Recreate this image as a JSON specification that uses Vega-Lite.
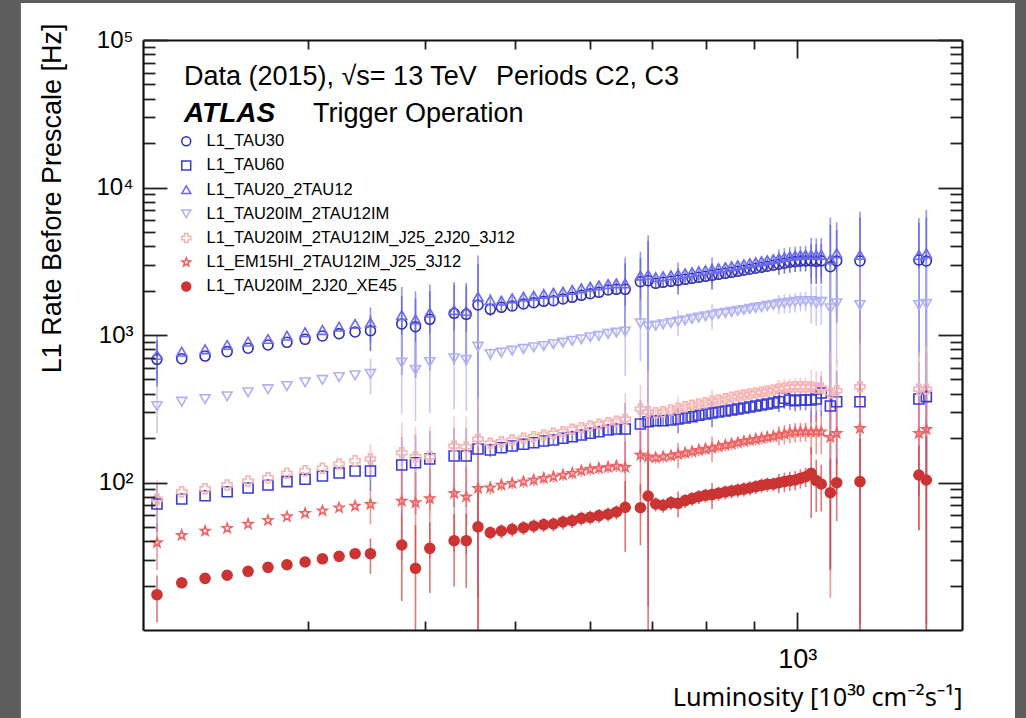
{
"$schema":"https://vega.github.io/schema/vega-lite/v6.json",
"width":819,"height":590,
"autosize":{"type":"none"},
"padding":{"left":143,"top":40,"right":64,"bottom":88},
"background":"#5d5d5d",
"config":{"view":{"stroke":null},"font":"Liberation Sans","axis":{"labelFont":"Liberation Sans","titleFont":"Liberation Sans","labelColor":"#000","titleColor":"#000","grid":false,"domainColor":"#111","domainWidth":2.2,"tickColor":"#222","tickWidth":1.8,"labelFlush":false,"labelOverlap":false,"labelBound":false,"titleFontWeight":"normal"}},
"data":{"values":[
{"s":"TAU30","L":207,"r":684,"e":239},{"s":"TAU30","L":220,"r":691},{"s":"TAU30","L":233,"r":720},{"s":"TAU30","L":246,"r":771},{"s":"TAU30","L":259,"r":813},{"s":"TAU30","L":272,"r":856},{"s":"TAU30","L":285,"r":892},{"s":"TAU30","L":298,"r":935},{"s":"TAU30","L":311,"r":985},{"s":"TAU30","L":324,"r":1021},{"s":"TAU30","L":337,"r":1048},{"s":"TAU30","L":350,"r":1069,"e":289},
{"s":"TAU30","L":378,"r":1188,"e":653},{"s":"TAU30","L":391,"r":1138,"e":626},{"s":"TAU30","L":405,"r":1278,"e":703},{"s":"TAU30","L":430,"r":1403,"e":772},{"s":"TAU30","L":443,"r":1381,"e":760},{"s":"TAU30","L":456,"r":1597,"e":1437},
{"s":"TAU30","L":470,"r":1494,"e":149},{"s":"TAU30","L":483,"r":1541,"e":108},{"s":"TAU30","L":496,"r":1573,"e":110},{"s":"TAU30","L":510,"r":1623,"e":114},{"s":"TAU30","L":523,"r":1656,"e":116},{"s":"TAU30","L":536,"r":1692,"e":118},{"s":"TAU30","L":549,"r":1708,"e":120},{"s":"TAU30","L":562,"r":1754,"e":123},{"s":"TAU30","L":575,"r":1801,"e":126},{"s":"TAU30","L":588,"r":1859,"e":130},{"s":"TAU30","L":601,"r":1905,"e":133},{"s":"TAU30","L":614,"r":1948,"e":136},{"s":"TAU30","L":628,"r":2019,"e":141},{"s":"TAU30","L":641,"r":2041,"e":143},{"s":"TAU30","L":655,"r":2041,"e":1020},
{"s":"TAU30","L":680,"r":2298,"e":1034},{"s":"TAU30","L":693,"r":2334,"e":1984},{"s":"TAU30","L":706,"r":2241,"e":157},{"s":"TAU30","L":719,"r":2277,"e":159},{"s":"TAU30","L":733,"r":2312,"e":162},{"s":"TAU30","L":746,"r":2349,"e":470},{"s":"TAU30","L":759,"r":2386,"e":167},{"s":"TAU30","L":772,"r":2424,"e":170},{"s":"TAU30","L":785,"r":2462,"e":172},{"s":"TAU30","L":798,"r":2500,"e":175},{"s":"TAU30","L":811,"r":2540,"e":508},{"s":"TAU30","L":824,"r":2580,"e":181},{"s":"TAU30","L":838,"r":2621,"e":183},{"s":"TAU30","L":851,"r":2662,"e":186},{"s":"TAU30","L":864,"r":2704,"e":189},{"s":"TAU30","L":877,"r":2747,"e":192},{"s":"TAU30","L":890,"r":2790,"e":195},{"s":"TAU30","L":903,"r":2834,"e":198},{"s":"TAU30","L":916,"r":2879,"e":202},{"s":"TAU30","L":929,"r":2924,"e":205},{"s":"TAU30","L":943,"r":2970,"e":208},{"s":"TAU30","L":956,"r":3017,"e":453},{"s":"TAU30","L":969,"r":3065,"e":460},{"s":"TAU30","L":982,"r":3113,"e":467},{"s":"TAU30","L":995,"r":3145,"e":472},{"s":"TAU30","L":1008,"r":3166,"e":475},{"s":"TAU30","L":1021,"r":3177,"e":477},{"s":"TAU30","L":1035,"r":3177,"e":953},{"s":"TAU30","L":1048,"r":3160,"e":948},{"s":"TAU30","L":1061,"r":3180,"e":954},
{"s":"TAU30","L":1085,"r":2904,"e":2672},{"s":"TAU30","L":1102,"r":3177,"e":1970},{"s":"TAU30","L":1167,"r":3177,"e":3082},{"s":"TAU30","L":1349,"r":3225,"e":2516},{"s":"TAU30","L":1374,"r":3177,"e":3082},
{"s":"TAU60","L":207,"r":71.5,"e":25},{"s":"TAU60","L":220,"r":77.3},{"s":"TAU60","L":233,"r":81.4},{"s":"TAU60","L":246,"r":86.6},{"s":"TAU60","L":259,"r":91.8},{"s":"TAU60","L":272,"r":96.2},{"s":"TAU60","L":285,"r":101.3},{"s":"TAU60","L":298,"r":105.1},{"s":"TAU60","L":311,"r":110.7},{"s":"TAU60","L":324,"r":116},{"s":"TAU60","L":337,"r":119.7},{"s":"TAU60","L":350,"r":119.7,"e":32},
{"s":"TAU60","L":378,"r":131.4,"e":72},{"s":"TAU60","L":391,"r":136.2,"e":75},{"s":"TAU60","L":405,"r":144.3,"e":79},{"s":"TAU60","L":430,"r":151.2,"e":83},{"s":"TAU60","L":443,"r":151.2,"e":83},{"s":"TAU60","L":456,"r":168.7,"e":152},
{"s":"TAU60","L":470,"r":166.1,"e":17},{"s":"TAU60","L":483,"r":172.2,"e":12},{"s":"TAU60","L":496,"r":176.8,"e":12.4},{"s":"TAU60","L":510,"r":181.6,"e":12.7},{"s":"TAU60","L":523,"r":186.1,"e":13},{"s":"TAU60","L":536,"r":191.1,"e":13.4},{"s":"TAU60","L":549,"r":194.2,"e":13.6},{"s":"TAU60","L":562,"r":199.4,"e":14},{"s":"TAU60","L":575,"r":204.4,"e":14.3},{"s":"TAU60","L":588,"r":209.9,"e":14.7},{"s":"TAU60","L":601,"r":215.6,"e":15.1},{"s":"TAU60","L":614,"r":221,"e":15.5},{"s":"TAU60","L":628,"r":226.9,"e":15.9},{"s":"TAU60","L":641,"r":230.5,"e":16.1},{"s":"TAU60","L":655,"r":230.5,"e":115},
{"s":"TAU60","L":680,"r":249.4,"e":112},{"s":"TAU60","L":693,"r":258.4,"e":220},{"s":"TAU60","L":706,"r":262.4,"e":18.4},{"s":"TAU60","L":719,"r":262.4,"e":18.4},{"s":"TAU60","L":733,"r":265.3,"e":18.6},{"s":"TAU60","L":746,"r":269.4,"e":54},{"s":"TAU60","L":759,"r":273.7,"e":19.2},{"s":"TAU60","L":772,"r":279.3,"e":19.6},{"s":"TAU60","L":785,"r":285.5,"e":20},{"s":"TAU60","L":798,"r":291.3,"e":20.4},{"s":"TAU60","L":811,"r":296,"e":59},{"s":"TAU60","L":824,"r":300.6,"e":21},{"s":"TAU60","L":838,"r":305.3,"e":21.4},{"s":"TAU60","L":851,"r":310.1,"e":21.7},{"s":"TAU60","L":864,"r":315,"e":22},{"s":"TAU60","L":877,"r":320,"e":22.4},{"s":"TAU60","L":890,"r":325,"e":22.8},{"s":"TAU60","L":903,"r":330,"e":23.1},{"s":"TAU60","L":916,"r":335.3,"e":23.5},{"s":"TAU60","L":929,"r":340.6,"e":23.8},{"s":"TAU60","L":943,"r":345.9,"e":24.2},{"s":"TAU60","L":956,"r":353,"e":53},{"s":"TAU60","L":969,"r":372.3,"e":56},{"s":"TAU60","L":982,"r":362.6,"e":54},{"s":"TAU60","L":995,"r":358.6,"e":54},{"s":"TAU60","L":1008,"r":362.6,"e":54},{"s":"TAU60","L":1021,"r":362.6,"e":54},{"s":"TAU60","L":1035,"r":362.6,"e":109},{"s":"TAU60","L":1048,"r":368.3,"e":110},{"s":"TAU60","L":1061,"r":404.6,"e":121},
{"s":"TAU60","L":1085,"r":330,"e":304},{"s":"TAU60","L":1102,"r":353,"e":219},{"s":"TAU60","L":1167,"r":353,"e":342},{"s":"TAU60","L":1349,"r":368,"e":287},{"s":"TAU60","L":1374,"r":382,"e":371},
{"s":"TAU20","L":207,"r":732,"e":256},{"s":"TAU20","L":220,"r":771},{"s":"TAU20","L":233,"r":800},{"s":"TAU20","L":246,"r":856},{"s":"TAU20","L":259,"r":901},{"s":"TAU20","L":272,"r":940},{"s":"TAU20","L":285,"r":989},{"s":"TAU20","L":298,"r":1043},{"s":"TAU20","L":311,"r":1081},{"s":"TAU20","L":324,"r":1138},{"s":"TAU20","L":337,"r":1188},{"s":"TAU20","L":350,"r":1212,"e":327},
{"s":"TAU20","L":378,"r":1366,"e":751},{"s":"TAU20","L":391,"r":1278,"e":703},{"s":"TAU20","L":405,"r":1417,"e":779},{"s":"TAU20","L":430,"r":1477,"e":812},{"s":"TAU20","L":443,"r":1455,"e":800},{"s":"TAU20","L":456,"r":1818,"e":1636},
{"s":"TAU20","L":470,"r":1727,"e":173},{"s":"TAU20","L":483,"r":1708,"e":120},{"s":"TAU20","L":496,"r":1774,"e":124},{"s":"TAU20","L":510,"r":1818,"e":127},{"s":"TAU20","L":523,"r":1847,"e":129},{"s":"TAU20","L":536,"r":1897,"e":133},{"s":"TAU20","L":549,"r":1936,"e":136},{"s":"TAU20","L":562,"r":1967,"e":138},{"s":"TAU20","L":575,"r":2019,"e":141},{"s":"TAU20","L":588,"r":2073,"e":145},{"s":"TAU20","L":601,"r":2126,"e":149},{"s":"TAU20","L":614,"r":2172,"e":152},{"s":"TAU20","L":628,"r":2217,"e":155},{"s":"TAU20","L":641,"r":2241,"e":157},{"s":"TAU20","L":655,"r":2241,"e":1120},
{"s":"TAU20","L":680,"r":2528,"e":1138},{"s":"TAU20","L":693,"r":2567,"e":2182},{"s":"TAU20","L":706,"r":2465,"e":173},{"s":"TAU20","L":719,"r":2505,"e":175},{"s":"TAU20","L":733,"r":2543,"e":178},{"s":"TAU20","L":746,"r":2584,"e":517},{"s":"TAU20","L":759,"r":2625,"e":184},{"s":"TAU20","L":772,"r":2666,"e":187},{"s":"TAU20","L":785,"r":2708,"e":190},{"s":"TAU20","L":798,"r":2750,"e":193},{"s":"TAU20","L":811,"r":2794,"e":559},{"s":"TAU20","L":824,"r":2838,"e":199},{"s":"TAU20","L":838,"r":2883,"e":202},{"s":"TAU20","L":851,"r":2928,"e":205},{"s":"TAU20","L":864,"r":2974,"e":208},{"s":"TAU20","L":877,"r":3022,"e":212},{"s":"TAU20","L":890,"r":3069,"e":215},{"s":"TAU20","L":903,"r":3117,"e":218},{"s":"TAU20","L":916,"r":3167,"e":222},{"s":"TAU20","L":929,"r":3216,"e":225},{"s":"TAU20","L":943,"r":3267,"e":229},{"s":"TAU20","L":956,"r":3319,"e":498},{"s":"TAU20","L":969,"r":3372,"e":506},{"s":"TAU20","L":982,"r":3424,"e":514},{"s":"TAU20","L":995,"r":3460,"e":519},{"s":"TAU20","L":1008,"r":3483,"e":522},{"s":"TAU20","L":1021,"r":3495,"e":524},{"s":"TAU20","L":1035,"r":3495,"e":1049},{"s":"TAU20","L":1048,"r":3476,"e":1043},{"s":"TAU20","L":1061,"r":3498,"e":1049},
{"s":"TAU20","L":1085,"r":3260,"e":2999},{"s":"TAU20","L":1102,"r":3580,"e":2220},{"s":"TAU20","L":1167,"r":3487,"e":3382},{"s":"TAU20","L":1349,"r":3487,"e":2720},{"s":"TAU20","L":1374,"r":3580,"e":3473},
{"s":"TAU20IM","L":207,"r":330,"e":116},{"s":"TAU20IM","L":220,"r":353},{"s":"TAU20IM","L":233,"r":368},{"s":"TAU20IM","L":246,"r":384},{"s":"TAU20IM","L":259,"r":409},{"s":"TAU20IM","L":272,"r":429},{"s":"TAU20IM","L":285,"r":451},{"s":"TAU20IM","L":298,"r":478},{"s":"TAU20IM","L":311,"r":496},{"s":"TAU20IM","L":324,"r":519},{"s":"TAU20IM","L":337,"r":533},{"s":"TAU20IM","L":350,"r":544,"e":147},
{"s":"TAU20IM","L":378,"r":649,"e":357},{"s":"TAU20IM","L":391,"r":579,"e":318},{"s":"TAU20IM","L":405,"r":656,"e":361},{"s":"TAU20IM","L":430,"r":695,"e":382},{"s":"TAU20IM","L":443,"r":677,"e":372},{"s":"TAU20IM","L":456,"r":833,"e":750},
{"s":"TAU20IM","L":470,"r":743,"e":74},{"s":"TAU20IM","L":483,"r":759,"e":46},{"s":"TAU20IM","L":496,"r":783,"e":47},{"s":"TAU20IM","L":510,"r":804,"e":48},{"s":"TAU20IM","L":523,"r":825,"e":50},{"s":"TAU20IM","L":536,"r":842,"e":51},{"s":"TAU20IM","L":549,"r":865,"e":52},{"s":"TAU20IM","L":562,"r":887,"e":53},{"s":"TAU20IM","L":575,"r":911,"e":55},{"s":"TAU20IM","L":588,"r":935,"e":56},{"s":"TAU20IM","L":601,"r":965,"e":58},{"s":"TAU20IM","L":614,"r":985,"e":59},{"s":"TAU20IM","L":628,"r":1016,"e":61},{"s":"TAU20IM","L":641,"r":1037,"e":62},{"s":"TAU20IM","L":655,"r":1053,"e":527},
{"s":"TAU20IM","L":680,"r":1200,"e":540},{"s":"TAU20IM","L":693,"r":1138,"e":967},{"s":"TAU20IM","L":706,"r":1156,"e":69},{"s":"TAU20IM","L":719,"r":1182,"e":71},{"s":"TAU20IM","L":733,"r":1206,"e":72},{"s":"TAU20IM","L":746,"r":1231,"e":246},{"s":"TAU20IM","L":759,"r":1258,"e":75},{"s":"TAU20IM","L":772,"r":1284,"e":77},{"s":"TAU20IM","L":785,"r":1311,"e":79},{"s":"TAU20IM","L":798,"r":1339,"e":80},{"s":"TAU20IM","L":811,"r":1360,"e":272},{"s":"TAU20IM","L":824,"r":1388,"e":83},{"s":"TAU20IM","L":838,"r":1410,"e":85},{"s":"TAU20IM","L":851,"r":1432,"e":86},{"s":"TAU20IM","L":864,"r":1455,"e":87},{"s":"TAU20IM","L":877,"r":1477,"e":89},{"s":"TAU20IM","L":890,"r":1501,"e":90},{"s":"TAU20IM","L":903,"r":1525,"e":92},{"s":"TAU20IM","L":916,"r":1548,"e":93},{"s":"TAU20IM","L":929,"r":1573,"e":94},{"s":"TAU20IM","L":943,"r":1597,"e":96},{"s":"TAU20IM","L":956,"r":1623,"e":243},{"s":"TAU20IM","L":969,"r":1640,"e":246},{"s":"TAU20IM","L":982,"r":1656,"e":248},{"s":"TAU20IM","L":995,"r":1674,"e":251},{"s":"TAU20IM","L":1008,"r":1692,"e":254},{"s":"TAU20IM","L":1021,"r":1700,"e":255},{"s":"TAU20IM","L":1035,"r":1700,"e":510},{"s":"TAU20IM","L":1048,"r":1648,"e":494},{"s":"TAU20IM","L":1061,"r":1674,"e":502},
{"s":"TAU20IM","L":1085,"r":1517,"e":1396},{"s":"TAU20IM","L":1102,"r":1640,"e":1017},{"s":"TAU20IM","L":1167,"r":1597,"e":1549},{"s":"TAU20IM","L":1349,"r":1597,"e":1246},{"s":"TAU20IM","L":1374,"r":1623,"e":1574},
{"s":"J25","L":207,"r":76.9,"e":27},{"s":"J25","L":220,"r":86.6},{"s":"J25","L":233,"r":90.8},{"s":"J25","L":246,"r":96.2},{"s":"J25","L":259,"r":102.4},{"s":"J25","L":272,"r":107.8},{"s":"J25","L":285,"r":115.5},{"s":"J25","L":298,"r":120.2},{"s":"J25","L":311,"r":124.9},{"s":"J25","L":324,"r":133.5},{"s":"J25","L":337,"r":140.5},{"s":"J25","L":350,"r":144.3,"e":39},
{"s":"J25","L":378,"r":159.2,"e":96},{"s":"J25","L":391,"r":149.6,"e":90},{"s":"J25","L":405,"r":149.6,"e":90},{"s":"J25","L":430,"r":176.8,"e":106},{"s":"J25","L":443,"r":174.9,"e":105},{"s":"J25","L":456,"r":196.3,"e":177},
{"s":"J25","L":470,"r":184.4,"e":18},{"s":"J25","L":483,"r":189.1,"e":13.2},{"s":"J25","L":496,"r":194.2,"e":13.6},{"s":"J25","L":510,"r":199.4,"e":14},{"s":"J25","L":523,"r":204.4,"e":14.3},{"s":"J25","L":536,"r":209.9,"e":14.7},{"s":"J25","L":549,"r":215.6,"e":15.1},{"s":"J25","L":562,"r":221,"e":15.5},{"s":"J25","L":575,"r":229.5,"e":16.1},{"s":"J25","L":588,"r":235.3,"e":16.5},{"s":"J25","L":601,"r":241.6,"e":16.9},{"s":"J25","L":614,"r":248.1,"e":17.4},{"s":"J25","L":628,"r":254.4,"e":17.8},{"s":"J25","L":641,"r":260,"e":18.2},{"s":"J25","L":655,"r":268.2,"e":134},
{"s":"J25","L":680,"r":315,"e":142},{"s":"J25","L":693,"r":302,"e":272},{"s":"J25","L":706,"r":297.4,"e":20.8},{"s":"J25","L":719,"r":302,"e":21.1},{"s":"J25","L":733,"r":310.1,"e":21.7},{"s":"J25","L":746,"r":318.5,"e":64},{"s":"J25","L":759,"r":326.5,"e":22.9},{"s":"J25","L":772,"r":333.7,"e":23.4},{"s":"J25","L":785,"r":340.6,"e":23.8},{"s":"J25","L":798,"r":347.5,"e":24.3},{"s":"J25","L":811,"r":355.2,"e":71},{"s":"J25","L":824,"r":362.6,"e":25.4},{"s":"J25","L":838,"r":370,"e":25.9},{"s":"J25","L":851,"r":378.2,"e":26.5},{"s":"J25","L":864,"r":385.9,"e":27},{"s":"J25","L":877,"r":392,"e":27.4},{"s":"J25","L":890,"r":398.1,"e":27.9},{"s":"J25","L":903,"r":404.6,"e":28.3},{"s":"J25","L":916,"r":410.9,"e":28.8},{"s":"J25","L":929,"r":417.4,"e":29.2},{"s":"J25","L":943,"r":423.9,"e":29.7},{"s":"J25","L":956,"r":430.6,"e":65},{"s":"J25","L":969,"r":437.4,"e":66},{"s":"J25","L":982,"r":442.1,"e":66},{"s":"J25","L":995,"r":446.3,"e":67},{"s":"J25","L":1008,"r":446.3,"e":67},{"s":"J25","L":1021,"r":446.3,"e":67},{"s":"J25","L":1035,"r":446.3,"e":134},{"s":"J25","L":1048,"r":437.4,"e":131},{"s":"J25","L":1061,"r":437.4,"e":131},
{"s":"J25","L":1085,"r":406,"e":374},{"s":"J25","L":1102,"r":419,"e":260},{"s":"J25","L":1167,"r":446,"e":433},{"s":"J25","L":1349,"r":429,"e":335},{"s":"J25","L":1374,"r":429,"e":416},
{"s":"EM15HI","L":207,"r":39.1,"e":13.7},{"s":"EM15HI","L":220,"r":43.9},{"s":"EM15HI","L":233,"r":46.9},{"s":"EM15HI","L":246,"r":48.9},{"s":"EM15HI","L":259,"r":52.3},{"s":"EM15HI","L":272,"r":55.4},{"s":"EM15HI","L":285,"r":58.7},{"s":"EM15HI","L":298,"r":61.8},{"s":"EM15HI","L":311,"r":64.4},{"s":"EM15HI","L":324,"r":67.5},{"s":"EM15HI","L":337,"r":69.3},{"s":"EM15HI","L":350,"r":71.2,"e":19.2},
{"s":"EM15HI","L":378,"r":74.9,"e":45},{"s":"EM15HI","L":391,"r":73,"e":44},{"s":"EM15HI","L":405,"r":77.7,"e":47},{"s":"EM15HI","L":430,"r":84.5,"e":51},{"s":"EM15HI","L":443,"r":80.1,"e":48},{"s":"EM15HI","L":456,"r":91.3,"e":82},
{"s":"EM15HI","L":470,"r":92.2,"e":9.2},{"s":"EM15HI","L":483,"r":96.2,"e":8.7},{"s":"EM15HI","L":496,"r":98.8,"e":8.9},{"s":"EM15HI","L":510,"r":101.3,"e":9.1},{"s":"EM15HI","L":523,"r":104,"e":9.4},{"s":"EM15HI","L":536,"r":106.8,"e":9.6},{"s":"EM15HI","L":549,"r":109.5,"e":9.9},{"s":"EM15HI","L":562,"r":112.4,"e":10.1},{"s":"EM15HI","L":575,"r":115.5,"e":10.4},{"s":"EM15HI","L":588,"r":120.2,"e":10.8},{"s":"EM15HI","L":601,"r":122.9,"e":11.1},{"s":"EM15HI","L":614,"r":124.9,"e":11.2},{"s":"EM15HI","L":628,"r":126.8,"e":11.4},{"s":"EM15HI","L":641,"r":129.4,"e":11.6},{"s":"EM15HI","L":655,"r":126.8,"e":63},
{"s":"EM15HI","L":680,"r":153.6,"e":69},{"s":"EM15HI","L":693,"r":149.6,"e":135},{"s":"EM15HI","L":706,"r":147.3,"e":13.3},{"s":"EM15HI","L":719,"r":149.6,"e":13.5},{"s":"EM15HI","L":733,"r":151.9,"e":13.7},{"s":"EM15HI","L":746,"r":155.3,"e":31},{"s":"EM15HI","L":759,"r":158.5,"e":14.3},{"s":"EM15HI","L":772,"r":161.8,"e":14.6},{"s":"EM15HI","L":785,"r":165.3,"e":14.9},{"s":"EM15HI","L":798,"r":168.7,"e":15.2},{"s":"EM15HI","L":811,"r":171.4,"e":34},{"s":"EM15HI","L":824,"r":174.9,"e":15.7},{"s":"EM15HI","L":838,"r":178.8,"e":16.1},{"s":"EM15HI","L":851,"r":182.4,"e":16.4},{"s":"EM15HI","L":864,"r":186.1,"e":16.7},{"s":"EM15HI","L":877,"r":190.2,"e":17.1},{"s":"EM15HI","L":890,"r":193.2,"e":17.4},{"s":"EM15HI","L":903,"r":196.3,"e":17.7},{"s":"EM15HI","L":916,"r":199.4,"e":17.9},{"s":"EM15HI","L":929,"r":202.5,"e":18.2},{"s":"EM15HI","L":943,"r":205.7,"e":18.5},{"s":"EM15HI","L":956,"r":209.9,"e":31},{"s":"EM15HI","L":969,"r":213.2,"e":32},{"s":"EM15HI","L":982,"r":217.6,"e":33},{"s":"EM15HI","L":995,"r":220,"e":33},{"s":"EM15HI","L":1008,"r":221,"e":33},{"s":"EM15HI","L":1021,"r":221,"e":33},{"s":"EM15HI","L":1035,"r":221,"e":66},{"s":"EM15HI","L":1048,"r":221,"e":66},{"s":"EM15HI","L":1061,"r":221,"e":66},
{"s":"EM15HI","L":1085,"r":202.5,"e":186},{"s":"EM15HI","L":1102,"r":215.6,"e":134},{"s":"EM15HI","L":1167,"r":233.1,"e":226},{"s":"EM15HI","L":1349,"r":215.6,"e":168},{"s":"EM15HI","L":1374,"r":229.5,"e":223},
{"s":"XE45","L":207,"r":17.35,"e":6.1},{"s":"XE45","L":220,"r":20.9},{"s":"XE45","L":233,"r":22.4},{"s":"XE45","L":246,"r":23.5},{"s":"XE45","L":259,"r":25},{"s":"XE45","L":272,"r":26.6},{"s":"XE45","L":285,"r":27.7},{"s":"XE45","L":298,"r":28.9},{"s":"XE45","L":311,"r":30.4},{"s":"XE45","L":324,"r":31.6},{"s":"XE45","L":337,"r":32.9},{"s":"XE45","L":350,"r":32.9,"e":8.9},
{"s":"XE45","L":378,"r":37.7,"e":22},{"s":"XE45","L":391,"r":26.2,"e":25.4},{"s":"XE45","L":405,"r":35.8,"e":18},{"s":"XE45","L":430,"r":40.3,"e":20.6},{"s":"XE45","L":443,"r":40.3,"e":21},{"s":"XE45","L":456,"r":50.1,"e":48.6},
{"s":"XE45","L":470,"r":45.7,"e":4.6},{"s":"XE45","L":483,"r":46.9,"e":5.2},{"s":"XE45","L":496,"r":48.2,"e":5.3},{"s":"XE45","L":510,"r":49.4,"e":5.4},{"s":"XE45","L":523,"r":50.7,"e":5.6},{"s":"XE45","L":536,"r":51.8,"e":5.7},{"s":"XE45","L":549,"r":52.3,"e":5.8},{"s":"XE45","L":562,"r":54,"e":5.9},{"s":"XE45","L":575,"r":55.1,"e":6.1},{"s":"XE45","L":588,"r":57.2,"e":6.3},{"s":"XE45","L":601,"r":58.1,"e":6.4},{"s":"XE45","L":614,"r":59.6,"e":6.6},{"s":"XE45","L":628,"r":60.9,"e":6.7},{"s":"XE45","L":641,"r":63.1,"e":6.9},{"s":"XE45","L":655,"r":67.9,"e":34},
{"s":"XE45","L":680,"r":67.5,"e":30},{"s":"XE45","L":693,"r":81,"e":78.6},{"s":"XE45","L":706,"r":71.5,"e":7.9},{"s":"XE45","L":719,"r":70.1,"e":7.7},{"s":"XE45","L":733,"r":73,"e":8},{"s":"XE45","L":746,"r":72.3,"e":14.5},{"s":"XE45","L":759,"r":75.3,"e":8.3},{"s":"XE45","L":772,"r":77.7,"e":8.5},{"s":"XE45","L":785,"r":80.1,"e":8.8},{"s":"XE45","L":798,"r":81.9,"e":9},{"s":"XE45","L":811,"r":82.7,"e":16.5},{"s":"XE45","L":824,"r":84.5,"e":9.3},{"s":"XE45","L":838,"r":86.2,"e":9.5},{"s":"XE45","L":851,"r":87.6,"e":9.6},{"s":"XE45","L":864,"r":89,"e":9.8},{"s":"XE45","L":877,"r":90.3,"e":9.9},{"s":"XE45","L":890,"r":91.8,"e":10.1},{"s":"XE45","L":903,"r":93.6,"e":10.3},{"s":"XE45","L":916,"r":95.7,"e":10.5},{"s":"XE45","L":929,"r":97.2,"e":10.7},{"s":"XE45","L":943,"r":97.7,"e":10.7},{"s":"XE45","L":956,"r":99.7,"e":15},{"s":"XE45","L":969,"r":101.3,"e":15.2},{"s":"XE45","L":982,"r":102.9,"e":15.4},{"s":"XE45","L":995,"r":104,"e":15.6},{"s":"XE45","L":1008,"r":106.8,"e":16},{"s":"XE45","L":1021,"r":109.5,"e":16.4},{"s":"XE45","L":1035,"r":115.5,"e":58},{"s":"XE45","L":1048,"r":102.9,"e":40},{"s":"XE45","L":1061,"r":97.7,"e":34},
{"s":"XE45","L":1085,"r":85.3,"e":60},{"s":"XE45","L":1102,"r":99.7,"e":45},{"s":"XE45","L":1167,"r":101.3,"e":98.3},{"s":"XE45","L":1349,"r":112.4,"e":65},{"s":"XE45","L":1374,"r":104,"e":101}
]},
"layer":[
{"data":{"values":[{}]},
 "mark":{"type":"rect","color":"#ffffff"},
 "encoding":{
  "x":{"datum":148.1,"type":"quantitative","scale":{"type":"log","domain":[200,1500],"nice":false},"axis":null},
  "x2":{"datum":1709},
  "y":{"datum":2.53,"type":"quantitative","scale":{"type":"log","domain":[10,100000],"nice":false},"axis":null},
  "y2":{"datum":178200}}},
{"mark":{"type":"errorbar","clip":true,"rule":{"strokeWidth":1.6,"opacity":0.7}},
 "encoding":{
  "x":{"field":"L","type":"quantitative","axis":null},
  "y":{"field":"r","type":"quantitative","axis":null},
  "yError":{"field":"e"},
  "color":{"field":"s","type":"nominal","legend":null,
   "scale":{"domain":["TAU30","TAU60","TAU20","TAU20IM","J25","EM15HI","XE45"],"range":["#3c3cc0","#4848dd","#6a6af0","#b4b4f6","#f7b8b8","#f06a6a","#d23a3a"]}}}},
{"mark":{"type":"point","filled":false,"size":100,"strokeWidth":1.6,"opacity":1},
 "encoding":{
  "x":{"field":"L","type":"quantitative","scale":{"type":"log","domain":[200,1500],"nice":false},
   "axis":{"orient":"bottom","zindex":1,"values":[300,400,500,600,700,800,900,1000],
    "labelExpr":"datum.value==1000?'10³':''",
    "tickSize":{"condition":{"test":"datum.value==1000","value":-18},"value":-9},
    "labelPadding":34,"labelFontSize":27,
    "title":"Luminosity [10³⁰ cm⁻²s⁻¹]","titleFont":"Noto Sans","titleFontSize":25.3,"titleAnchor":"end","titleAlign":"right","titleX":819,"titleY":75,"titleBaseline":"alphabetic"}},
  "y":{"field":"r","type":"quantitative","scale":{"type":"log","domain":[10,100000],"nice":false},
   "axis":{"orient":"left","zindex":1,"values":[20,30,40,50,60,70,80,90,100,200,300,400,500,600,700,800,900,1000,2000,3000,4000,5000,6000,7000,8000,9000,10000,20000,30000,40000,50000,60000,70000,80000,90000,100000],
    "labelExpr":"datum.value==100?'10²':datum.value==1000?'10³':datum.value==10000?'10⁴':datum.value==100000?'10⁵':''",
    "tickSize":{"condition":{"test":"datum.value==100||datum.value==1000||datum.value==10000||datum.value==100000","value":-24},"value":-12},
    "labelPadding":34,"labelFontSize":24,"labelBaseline":"middle",
    "title":"L1 Rate Before Prescale [Hz]","titleFontSize":27,"titleAngle":270,"titleAlign":"right","titleBaseline":"alphabetic","titleX":-83,"titleY":-17}},
  "color":{"field":"s","type":"nominal",
   "scale":{"domain":["TAU30","TAU60","TAU20","TAU20IM","J25","EM15HI","XE45"],"range":["#2e2eb0","#3a3ad8","#6a6af0","#b0b0f5","#f7b2b2","#f06262","#cc3333"]},
   "legend":{"title":null,"orient":"none","legendX":35,"legendY":93,"padding":0,"zindex":1,"labelFontSize":16.5,"labelFont":"Liberation Sans","labelColor":"#000","labelLimit":0,"symbolSize":80,"symbolStrokeWidth":1.5,"rowPadding":7.2,"labelOffset":12,
    "labelExpr":"datum.value=='TAU30'?'L1_TAU30':datum.value=='TAU60'?'L1_TAU60':datum.value=='TAU20'?'L1_TAU20_2TAU12':datum.value=='TAU20IM'?'L1_TAU20IM_2TAU12IM':datum.value=='J25'?'L1_TAU20IM_2TAU12IM_J25_2J20_3J12':datum.value=='EM15HI'?'L1_EM15HI_2TAU12IM_J25_3J12':'L1_TAU20IM_2J20_XE45'"}},
  "fill":{"field":"s","type":"nominal",
   "scale":{"domain":["TAU30","TAU60","TAU20","TAU20IM","J25","EM15HI","XE45"],"range":["transparent","transparent","transparent","transparent","transparent","transparent","#cc3333"]},
   "legend":{"title":null,"orient":"none","legendX":35,"legendY":93,"padding":0,"zindex":1,"labelFontSize":16.5,"labelFont":"Liberation Sans","labelColor":"#000","labelLimit":0,"symbolSize":80,"symbolStrokeWidth":1.5,"rowPadding":7.2,"labelOffset":12,
    "labelExpr":"datum.value=='TAU30'?'L1_TAU30':datum.value=='TAU60'?'L1_TAU60':datum.value=='TAU20'?'L1_TAU20_2TAU12':datum.value=='TAU20IM'?'L1_TAU20IM_2TAU12IM':datum.value=='J25'?'L1_TAU20IM_2TAU12IM_J25_2J20_3J12':datum.value=='EM15HI'?'L1_EM15HI_2TAU12IM_J25_3J12':'L1_TAU20IM_2J20_XE45'"}},
  "shape":{"field":"s","type":"nominal",
   "scale":{"domain":["TAU30","TAU60","TAU20","TAU20IM","J25","EM15HI","XE45"],"range":["circle","square","triangle-up","triangle-down","cross","M0,-1L0.235,-0.324L0.951,-0.309L0.38,0.124L0.588,0.809L0,0.4L-0.588,0.809L-0.38,0.124L-0.951,-0.309L-0.235,-0.324Z","circle"]},
   "legend":{"title":null,"orient":"none","legendX":35,"legendY":93,"padding":0,"zindex":1,"labelFontSize":16.5,"labelFont":"Liberation Sans","labelColor":"#000","labelLimit":0,"symbolSize":80,"symbolStrokeWidth":1.5,"rowPadding":7.2,"labelOffset":12,
    "labelExpr":"datum.value=='TAU30'?'L1_TAU30':datum.value=='TAU60'?'L1_TAU60':datum.value=='TAU20'?'L1_TAU20_2TAU12':datum.value=='TAU20IM'?'L1_TAU20IM_2TAU12IM':datum.value=='J25'?'L1_TAU20IM_2TAU12IM_J25_2J20_3J12':datum.value=='EM15HI'?'L1_EM15HI_2TAU12IM_J25_3J12':'L1_TAU20IM_2J20_XE45'"}}}},
{"data":{"values":[{}]},
 "mark":{"type":"text","text":"Data (2015), √s= 13 TeV","font":"Liberation Sans","fontSize":27,"align":"left","baseline":"alphabetic","color":"#000"},
 "encoding":{"x":{"datum":221.2,"type":"quantitative","axis":null},"y":{"datum":49540,"type":"quantitative","axis":null}}},
{"data":{"values":[{}]},
 "mark":{"type":"text","text":"Periods C2, C3","font":"Liberation Sans","fontSize":27,"align":"left","baseline":"alphabetic","color":"#000"},
 "encoding":{"x":{"datum":476.7,"type":"quantitative","axis":null},"y":{"datum":49540,"type":"quantitative","axis":null}}},
{"data":{"values":[{}]},
 "mark":{"type":"text","text":"ATLAS","font":"Liberation Sans","fontSize":28,"fontWeight":"bold","fontStyle":"italic","align":"left","baseline":"alphabetic","color":"#000"},
 "encoding":{"x":{"datum":221.2,"type":"quantitative","axis":null},"y":{"datum":27935,"type":"quantitative","axis":null}}},
{"data":{"values":[{}]},
 "mark":{"type":"text","text":"Trigger Operation","font":"Liberation Sans","fontSize":27,"align":"left","baseline":"alphabetic","color":"#000"},
 "encoding":{
  "x":{"datum":303.8,"type":"quantitative","axis":{"orient":"top","zindex":1,"values":[300,400,500,600,700,800,900,1000],"labels":false,"title":null,
    "tickSize":{"condition":{"test":"datum.value==1000","value":-18},"value":-9}}},
  "y":{"datum":27935,"type":"quantitative","axis":{"orient":"right","zindex":1,"values":[20,30,40,50,60,70,80,90,100,200,300,400,500,600,700,800,900,1000,2000,3000,4000,5000,6000,7000,8000,9000,10000,20000,30000,40000,50000,60000,70000,80000,90000,100000],"labels":false,"title":null,
    "tickSize":{"condition":{"test":"datum.value==100||datum.value==1000||datum.value==10000||datum.value==100000","value":-24},"value":-12}}}}}
],
"resolve":{"axis":{"x":"independent","y":"independent"},"scale":{"color":"independent","fill":"independent","shape":"independent"},"legend":{"color":"independent","fill":"independent","shape":"independent"}}
}
